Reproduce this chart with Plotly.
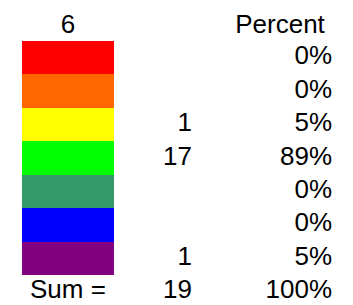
import plotly.graph_objects as go

# ---- data ----
header_label = "6"
percent_header = "Percent"
swatch_colors = ["#FF0000", "#FF6600", "#FFFF00", "#00FF00", "#339966", "#0000FF", "#800080"]
counts = ["", "", "1", "17", "", "", "1"]
percents = ["0%", "0%", "5%", "89%", "0%", "0%", "5%"]
sum_label = "Sum ="
sum_count = "19"
sum_percent = "100%"

n = len(swatch_colors)
rows = list(range(1, n + 1))
sum_row = n + 1

FONT = dict(family="Liberation Sans, Arial, sans-serif", size=26, color="#000000")

# column positions (axis units; swatch column is centred on 0)
X_SWATCH = 0
X_COUNT = 1.348
X_PCT = 2.87
X_PCT_HEAD = 2.305
Y_HEADER = 0.07

fig = go.Figure()

colorscale = [[i / (n - 1), c] for i, c in enumerate(swatch_colors)]
fig.add_trace(go.Heatmap(
    x=[X_SWATCH], y=rows, z=[[i] for i in range(n)],
    colorscale=colorscale, zmin=0, zmax=n - 1, showscale=False,
    hoverinfo="skip", xgap=0, ygap=0,
))

common = dict(mode="text", textfont=FONT, hoverinfo="skip", cliponaxis=False)
# header row
fig.add_trace(go.Scatter(x=[X_SWATCH, X_PCT_HEAD], y=[Y_HEADER, Y_HEADER],
                         text=[header_label, percent_header], textposition="middle center", **common))
# counts column
fig.add_trace(go.Scatter(x=[X_COUNT] * (n + 1), y=rows + [sum_row],
                         text=counts + [sum_count], textposition="middle left", **common))
# percent column
fig.add_trace(go.Scatter(x=[X_PCT] * (n + 1), y=rows + [sum_row],
                         text=percents + [sum_percent], textposition="middle left", **common))
# sum label
fig.add_trace(go.Scatter(x=[X_SWATCH], y=[sum_row],
                         text=[sum_label], textposition="middle center", **common))

fig.update_layout(
    width=345, height=297,
    margin=dict(l=0, r=0, t=0, b=0),
    paper_bgcolor="white", plot_bgcolor="white",
    showlegend=False,
    xaxis=dict(range=[-0.652, 3.098], visible=False, fixedrange=True),
    yaxis=dict(range=[8.397, -0.487], visible=False, fixedrange=True),
)

fig.write_html("out.html")
